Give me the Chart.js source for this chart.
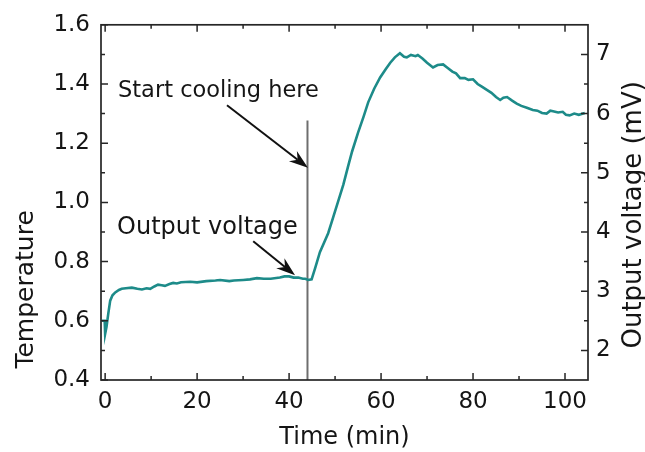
<!DOCTYPE html>
<html>
<head>
<meta charset="utf-8">
<script src="https://cdn.jsdelivr.net/npm/chart.js@4/dist/chart.umd.min.js"></script>
<style>
  html, body { margin: 0; padding: 0; background: #ffffff; }
  #wrap { width: 645px; height: 452px; }
</style>
</head>
<body>
<div id="wrap"><canvas id="c" width="645" height="452"></canvas></div>
<script>
// ---- data ----
const timeMin = [-0.7, -0.1, 0, 0.3, 0.7, 1.1, 1.6, 2.2, 3.0, 3.6, 4.5, 5.8, 7, 8, 9, 9.8, 10.7, 11.5, 12.3, 13, 14, 14.8, 15.6,
  16.5, 18.5, 20, 22, 24, 25, 27, 28, 30, 31.5, 33, 34.5, 36, 38, 39, 40, 41, 42, 43, 43.5, 44.2, 44.9,
  45.7, 46.7, 48.5, 49.6, 50.6, 51.8, 52.8, 53.7, 55.0, 56.2, 57.2, 58.5, 59.8, 61, 62, 63, 64.1,
  65, 65.6, 66.5, 67.5, 68, 69, 70, 71.3, 72.3, 73.5, 74.5, 75.5, 76.3, 77.2, 78.2, 79, 80, 81, 82, 83, 84, 85, 85.9,
  86.6, 87.4, 88.5, 89.5, 90.5, 91.7, 93, 94, 95, 96, 96.8, 97.4, 98.5, 99.5, 100.2, 101, 102, 103, 104.3];
const outputMv = [2.50, 2.50, 2.28, 2.40, 2.63, 2.84, 2.93, 2.98, 3.02, 3.04, 3.05, 3.06, 3.04, 3.03, 3.05, 3.04, 3.08, 3.11, 3.10, 3.09, 3.12, 3.14, 3.13,
  3.15, 3.16, 3.15, 3.17, 3.18, 3.19, 3.17, 3.18, 3.19, 3.20, 3.22, 3.21, 3.21, 3.23, 3.25, 3.25, 3.23, 3.23, 3.21, 3.21, 3.19, 3.20,
  3.40, 3.66, 3.98, 4.25, 4.50, 4.80, 5.10, 5.36, 5.68, 5.95, 6.19, 6.42, 6.61, 6.75, 6.86, 6.95, 7.02,
  6.96, 6.95, 6.99, 6.97, 6.99, 6.93, 6.86, 6.78, 6.82, 6.83, 6.77, 6.71, 6.68, 6.60, 6.60, 6.57, 6.58, 6.50, 6.45, 6.40, 6.35, 6.28, 6.23,
  6.27, 6.28, 6.22, 6.17, 6.13, 6.10, 6.06, 6.05, 6.01, 6.00, 6.05, 6.04, 6.02, 6.03, 5.98, 5.97, 6.00, 5.98, 6.01];

const coolStartTime = [44, 44];
const coolMarkerTemp = [0.4, 1.277];

const xTicks = [0, 20, 40, 60, 80, 100];
const xMinorTicks = [10, 30, 50, 70, 90];
const tempTicks = [0.4, 0.6, 0.8, 1.0, 1.2, 1.4, 1.6];
const tempMinorTicks = [0.5, 0.7, 0.9, 1.1, 1.3, 1.5];
const voltTicks = [2, 3, 4, 5, 6, 7];
const voltMinorTicks = [2.5, 3.5, 4.5, 5.5, 6.5];

const xLabel = 'Time (min)';
const leftLabel = 'Temperature';
const rightLabel = 'Output voltage (mV)';

// annotation text anchor (time, temperature) and arrow from/to in data units
const noteTexts = ['Start cooling here', 'Output voltage'];
const noteTextAt = [[2.8, 1.355], [2.6, 0.893]];
const noteFontPx = [22.5, 24];
const arrowFrom = [[26.5, 1.328], [32.2, 0.869]];
const arrowTo = [[44.1, 1.117], [41.3, 0.754]];

// ---- chart ----
const FONT = '"DejaVu Sans", sans-serif';
const INK = '#151515';

const pts = timeMin.map((t, i) => ({ x: t, y: outputMv[i] }));
const vline = coolStartTime.map((t, i) => ({ x: t, y: coolMarkerTemp[i] }));

const decor = {
  id: 'decor',
  beforeDraw(chart) {
    const ctx = chart.ctx;
    ctx.save();
    ctx.fillStyle = '#ffffff';
    ctx.fillRect(0, 0, chart.width, chart.height);
    ctx.restore();
  },
  afterDraw(chart) {
    const ctx = chart.ctx;
    const a = chart.chartArea;
    const sx = chart.scales.x, sy = chart.scales.y, sv = chart.scales.y1;
    ctx.save();
    // frame
    ctx.strokeStyle = '#262626';
    ctx.lineWidth = 1.7;
    ctx.strokeRect(a.left, a.top, a.right - a.left, a.bottom - a.top);
    // inward ticks
    ctx.lineWidth = 1.5;
    ctx.beginPath();
    const MAJ = 7, MIN = 4;
    xTicks.forEach(v => { const p = sx.getPixelForValue(v);
      ctx.moveTo(p, a.bottom); ctx.lineTo(p, a.bottom - MAJ);
      ctx.moveTo(p, a.top); ctx.lineTo(p, a.top + MAJ); });
    xMinorTicks.forEach(v => { const p = sx.getPixelForValue(v);
      ctx.moveTo(p, a.bottom); ctx.lineTo(p, a.bottom - MIN);
      ctx.moveTo(p, a.top); ctx.lineTo(p, a.top + MIN); });
    tempTicks.forEach(v => { const p = sy.getPixelForValue(v);
      ctx.moveTo(a.left, p); ctx.lineTo(a.left + MAJ, p); });
    tempMinorTicks.forEach(v => { const p = sy.getPixelForValue(v);
      ctx.moveTo(a.left, p); ctx.lineTo(a.left + MIN, p); });
    voltTicks.forEach(v => { const p = sv.getPixelForValue(v);
      ctx.moveTo(a.right, p); ctx.lineTo(a.right - MAJ, p); });
    voltMinorTicks.forEach(v => { const p = sv.getPixelForValue(v);
      ctx.moveTo(a.right, p); ctx.lineTo(a.right - MIN, p); });
    ctx.stroke();

    // axis titles
    ctx.fillStyle = INK;
    ctx.textAlign = 'center';
    ctx.textBaseline = 'middle';
    ctx.font = '24px ' + FONT;
    ctx.fillText(xLabel, (a.left + a.right) / 2, a.bottom + 58);
    ctx.save();
    ctx.translate(26, a.top + (a.bottom - a.top) * 0.745);
    ctx.rotate(-Math.PI / 2);
    ctx.font = '25px ' + FONT;
    ctx.fillText(leftLabel, 0, 0);
    ctx.restore();
    ctx.save();
    ctx.translate(chart.width - 11, a.top + (a.bottom - a.top) * 0.535);
    ctx.rotate(-Math.PI / 2);
    ctx.font = '26px ' + FONT;
    ctx.fillText(rightLabel, 0, 0);
    ctx.restore();

    // annotations
    ctx.textAlign = 'left';
    ctx.textBaseline = 'alphabetic';
    noteTexts.forEach((txt, i) => {
      ctx.font = noteFontPx[i] + 'px ' + FONT;
      ctx.fillStyle = INK;
      ctx.fillText(txt, sx.getPixelForValue(noteTextAt[i][0]), sy.getPixelForValue(noteTextAt[i][1]));
      const x0 = sx.getPixelForValue(arrowFrom[i][0]), y0 = sy.getPixelForValue(arrowFrom[i][1]);
      const x1 = sx.getPixelForValue(arrowTo[i][0]), y1 = sy.getPixelForValue(arrowTo[i][1]);
      const ang = Math.atan2(y1 - y0, x1 - x0);
      const L = 19, W = 6.5;
      const c = Math.cos(ang), s = Math.sin(ang);
      const bx = x1 - L * c, by = y1 - L * s;
      ctx.strokeStyle = '#111';
      ctx.lineWidth = 2;
      ctx.beginPath(); ctx.moveTo(x0, y0); ctx.lineTo(bx + 6 * c, by + 6 * s); ctx.stroke();
      ctx.fillStyle = '#111';
      ctx.beginPath();
      ctx.moveTo(x1, y1);
      ctx.lineTo(bx - W * s, by + W * c);
      ctx.lineTo(bx + 6 * c, by + 6 * s);
      ctx.lineTo(bx + W * s, by - W * c);
      ctx.closePath();
      ctx.fill();
    });
    ctx.restore();
  }
};

new Chart(document.getElementById('c'), {
  type: 'line',
  data: {
    datasets: [
      { label: 'Output voltage', data: pts, yAxisID: 'y1', borderColor: '#1d8b89', borderWidth: 2.6,
        pointRadius: 0, tension: 0, fill: false },
      { label: 'cooling', data: vline, yAxisID: 'y', borderColor: '#6e6e6e', borderWidth: 2,
        pointRadius: 0, tension: 0, fill: false }
    ]
  },
  options: {
    responsive: false,
    devicePixelRatio: 1,
    animation: false,
    layout: { padding: { top: 22, left: 0, right: 0, bottom: 0 } },
    plugins: { legend: { display: false }, tooltip: { enabled: false } },
    scales: {
      x: {
        type: 'linear', min: -0.9, max: 105,
        grid: { display: false, drawTicks: false }, border: { display: false },
        afterBuildTicks: s => { s.ticks = xTicks.map(v => ({ value: v })); },
        afterFit: s => { s.height = 72; },
        ticks: { font: { family: FONT, size: 23 }, color: INK, padding: 8, maxRotation: 0, autoSkip: false,
          callback: v => String(v) }
      },
      y: {
        type: 'linear', position: 'left', min: 0.4, max: 1.6,
        grid: { display: false, drawTicks: false }, border: { display: false },
        afterBuildTicks: s => { s.ticks = tempTicks.map(v => ({ value: v })); },
        afterFit: s => { s.width = 101; },
        ticks: { font: { family: FONT, size: 23 }, color: INK, padding: 11, autoSkip: false,
          callback: v => Number(v).toFixed(1) }
      },
      y1: {
        type: 'linear', position: 'right', min: 1.5, max: 7.5,
        grid: { display: false, drawTicks: false }, border: { display: false },
        afterBuildTicks: s => { s.ticks = voltTicks.map(v => ({ value: v })); },
        afterFit: s => { s.width = 57; },
        ticks: { font: { family: FONT, size: 23 }, color: INK, padding: 8, autoSkip: false,
          callback: v => String(v) }
      }
    }
  },
  plugins: [decor]
});
</script>
</body>
</html>
